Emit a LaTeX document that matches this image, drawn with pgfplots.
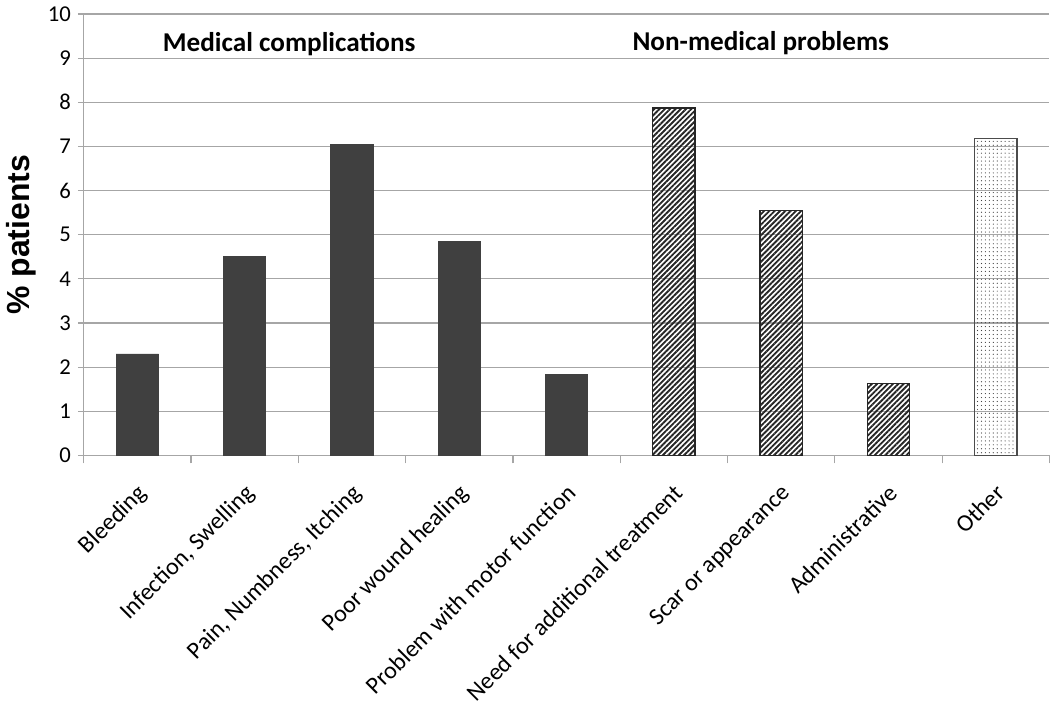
\documentclass[border=0pt]{standalone}
\usepackage{pgfplots}
\pgfplotsset{compat=1.18}
\usetikzlibrary{patterns.meta}
\usepackage{fontspec}
\setmainfont{Carlito}
\newfontfamily\arialfont{Liberation Sans}
\definecolor{bardark}{HTML}{404040}
\definecolor{gridgray}{HTML}{A6A6A6}

\begin{document}
\begin{tikzpicture}
\begin{axis}[
    scale only axis,
    width=490pt, height=224pt,
    ybar, bar width=21.5pt, bar shift=0pt,
    xmin=-0.5, xmax=8.5,
    ymin=0, ymax=10,
    ytick={0,...,10},
    xtick={0,...,8},
    minor xtick={-0.5,0.5,...,8.5},
    xticklabels={Bleeding, {Infection, Swelling}, {Pain, Numbness, Itching},
        Poor wound healing, Problem with motor function,
        Need for additional treatment, Scar or appearance, Administrative, Other},
    x tick label style={rotate=45, anchor=north east, font=\fontsize{12.2}{14}\selectfont, inner sep=1pt, yshift=-6pt, xshift=-7pt},
    y tick label style={font=\fontsize{11.5}{13}\selectfont},
    /pgf/number format/assume math mode=true,
    axis lines*=left,
    axis line style={gridgray, line width=0.6pt},
    tick align=outside,
    major tick length=3pt, minor tick length=4pt,
    major x tick style={draw=none},
    minor x tick style={gridgray, line width=0.6pt},
    y tick style={gridgray, line width=0.6pt},
    ymajorgrids,
    major grid style={gridgray, line width=0.6pt},
    ylabel={\% patients},
    ylabel style={font=\arialfont\bfseries\fontsize{16.2}{18}\selectfont, yshift=-1pt},
    clip=false,
]
\addplot[fill=bardark, draw=bardark] coordinates {(0,2.30) (1,4.50) (2,7.05) (3,4.85) (4,1.83)};
\addplot[draw=black!85, line width=0.6pt,
    pattern={Lines[angle=45, distance=1.9pt, line width=0.95pt]}, pattern color=black!85]
    coordinates {(5,7.87) (6,5.55) (7,1.63)};
\addplot[draw=black!70, line width=0.6pt,
    pattern={Dots[distance=2pt, radius=0.3pt]}, pattern color=black!75]
    coordinates {(8,7.18)};
\node[font=\bfseries\fontsize{13.8}{16}\selectfont] at (axis cs:1.415,9.33) {Medical complications};
\node[font=\bfseries\fontsize{13.8}{16}\selectfont] at (axis cs:5.81,9.33) {Non-medical problems};
\end{axis}
\end{tikzpicture}
\end{document}
